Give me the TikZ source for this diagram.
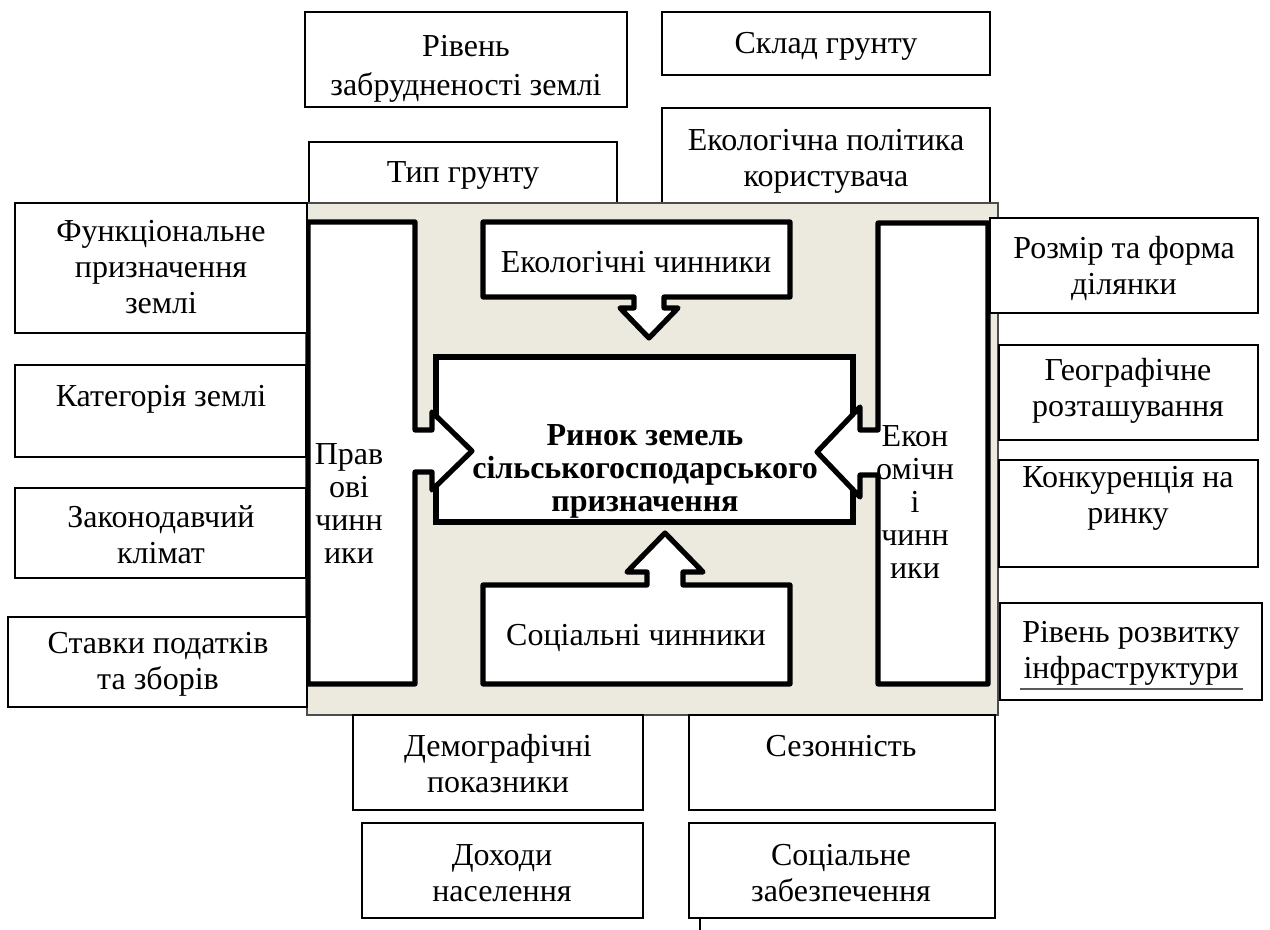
\documentclass[tikz,border=0pt]{standalone}
\usepackage{fontspec}
\setmainfont{Liberation Serif}
\usetikzlibrary{fit}
\definecolor{beige}{RGB}{236,233,223}
\begin{document}
\begin{tikzpicture}[x=0.5pt,y=-0.5pt,
  box/.style={draw=black, line width=1pt, fill=white, inner sep=0pt},
  txt/.style={align=center, font=\fontsize{16}{18}\selectfont, inner sep=0pt},
  ctxt/.style={align=center, font=\fontsize{16}{16.5}\selectfont, inner sep=0pt},
  callout/.style={draw=black, line width=2.6pt, fill=white, line join=round},
  thickbox/.style={draw=black, line width=2.6pt, fill=white, inner sep=0pt},
]
\useasboundingbox (0,0) rectangle (1270,930);

% top boxes (behind background)
\node[box, fit={(305,12) (627,107)}] (rz) {};
\node[box, fit={(662,12) (990,75)}] (sk) {};
\node[box, fit={(309,142) (617,203)}] (tp) {};
\node[box, fit={(662,108) (990,203)}] (ep) {};

% background panel
\fill[beige, draw=gray!60!black, line width=0.6pt] (307,203) rectangle (998,715);

% central box
\node[thickbox, fit={(436,357) (853,522)}] (rn) {};

% callouts
\draw[callout] (308,222) -- (415,222) -- (415,430) -- (432,430) -- (432,412) -- (472,451)
  -- (432,490) -- (432,472) -- (415,472) -- (415,684) -- (308,684) -- cycle;
\draw[callout] (988,223) -- (878,223) -- (878,430) -- (860,430) -- (860,407) -- (817,452)
  -- (860,497) -- (860,475) -- (878,475) -- (878,684) -- (988,684) -- cycle;
\draw[callout] (483,222) -- (790,222) -- (790,297) -- (664,297) -- (664,308) -- (678,308)
  -- (649,338) -- (620,308) -- (634,308) -- (634,297) -- (483,297) -- cycle;
\draw[callout] (483,684) -- (483,585) -- (647,585) -- (647,572) -- (627,572) -- (665,533)
  -- (703,572) -- (683,572) -- (683,585) -- (790,585) -- (790,684) -- cycle;

% left boxes
\node[box, fit={(15,203) (307,333)}] (fn) {};
\node[box, fit={(15,365) (306,457)}] (kt) {};
\node[box, fit={(15,488) (306,578)}] (zk) {};
\node[box, fit={(8,617) (307,707)}] (st) {};

% right boxes
\node[box, fit={(990,218) (1258,313)}] (rf) {};
\node[box, fit={(999,345) (1258,440)}] (gr) {};
\node[box, fit={(999,460) (1258,567)}] (kn) {};
\node[box, fit={(1000,603) (1262,700)}] (rr) {};

% bottom boxes
\node[box, fit={(353,715) (643,810)}] (dm) {};
\node[box, fit={(689,715) (995,810)}] (sz) {};
\node[box, fit={(362,823) (643,918)}] (dh) {};
\node[box, fit={(689,823) (995,918)}] (sf) {};
\coordinate (tick) at (700,930);
\draw[line width=0.8pt] (sf.south -| tick) -- (tick);

% texts
\node[txt, font=\fontsize{16}{19.5}\selectfont] (rzT) at (466,69) {Рівень\\забрудненості землі};
\node[txt] (skT) at (826,46) {Склад грунту};
\node[txt] (tpT) at (463,175) {Тип грунту};
\node[txt] (epT) at (826,161) {Екологічна політика\\користувача};

\node[txt] (fnT) at (161,267) {Функціональне\\призначення\\землі};
\node[txt] (ktT) at (161,399) {Категорія землі};
\node[txt] (zkT) at (161,535) {Законодавчий\\клімат};
\node[txt] (stT) at (158,664) {Ставки податків\\та зборів};

\node[txt] (rfT) at (1124,268) {Розмір та форма\\ділянки};
\node[txt] (grT) at (1128,391) {Географічне\\розташування};
\node[txt] (knT) at (1128,498) {Конкуренція на\\ринку};
\node[txt] (rrT) at (1131,653) {Рівень розвитку\\інфраструктури};
\draw[gray!70!black, line width=0.8pt] (1020,689) -- (1243,689);

\node[txt] (dmT) at (498,764) {Демографічні\\показники};
\node[txt] (szT) at (841,746) {Сезонність};
\node[txt] (dhT) at (502,873) {Доходи\\населення};
\node[txt] (sfT) at (841,873) {Соціальне\\забезпечення};

\node[txt] (ekT) at (636,262) {Екологічні чинники};
\node[txt] (scT) at (636,638) {Соціальні чинники};
\node[ctxt] (prT) at (349,504) {Прав\\ові\\чинн\\ики};
\node[ctxt] (ecT) at (915,502) {Екон\\омічн\\і\\чинн\\ики};
\node[txt, font=\fontsize{16}{16.5}\selectfont\bfseries] (rnT) at (645,471) {Ринок земель\\сільськогосподарського\\призначення};
\end{tikzpicture}
\end{document}
